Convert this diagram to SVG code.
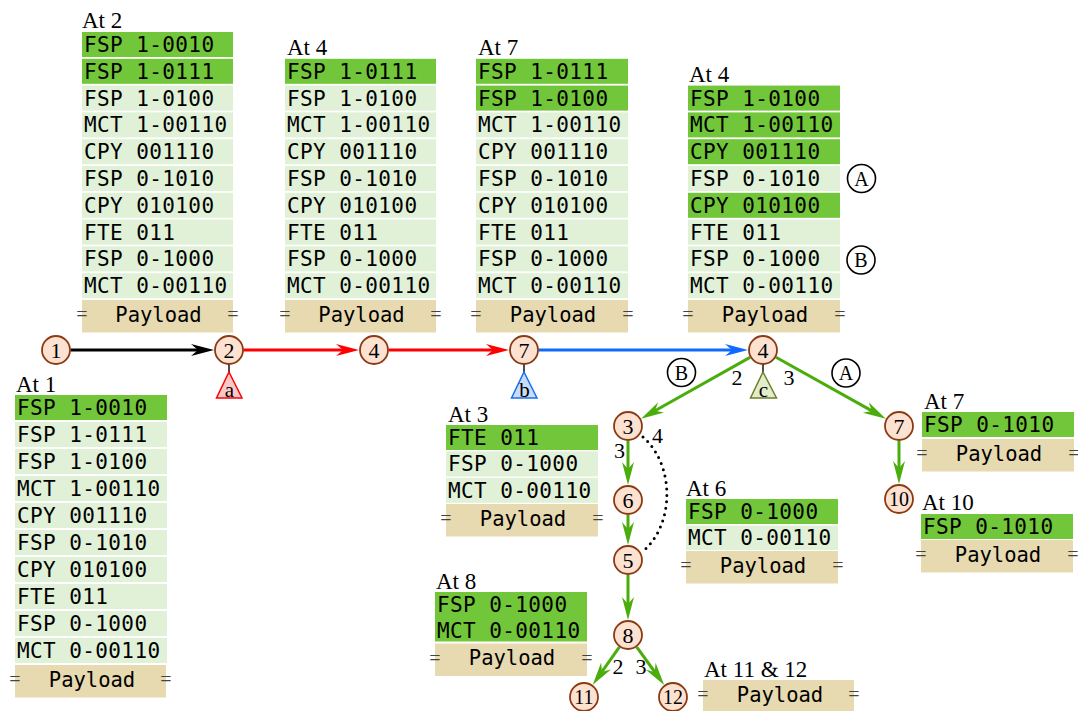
<svg xmlns="http://www.w3.org/2000/svg" width="1078" height="711" viewBox="0 0 1078 711">
<style>
.hd{font-family:"Liberation Serif",serif;font-size:23px;fill:#000}
.rt{font-family:"DejaVu Sans Mono",monospace;font-size:21px;letter-spacing:0.4px;fill:#000}
.pt{font-family:"DejaVu Sans Mono",monospace;font-size:20.5px;fill:#000;text-anchor:middle}
.eq{font-family:"Liberation Serif",serif;font-size:20px;fill:#444;text-anchor:middle}
.dk{fill:#72c63a}
.lt{fill:#e0f1d8}
.pl{fill:#e7dab0}
.nd circle{fill:#fde2d2;stroke:#8c3a12;stroke-width:1.8}
.nl{font-family:"Liberation Serif",serif;font-size:22px;fill:#000;text-anchor:middle}
.el{font-family:"Liberation Serif",serif;font-size:22px;fill:#000;text-anchor:middle}
.cl circle{fill:#fff;stroke:#000;stroke-width:1.6}
.cl text{font-family:"Liberation Serif",serif;font-size:20px;fill:#000;text-anchor:middle}
.tl{font-family:"Liberation Serif",serif;font-size:21px;fill:#000;text-anchor:middle}
.e{fill:none;stroke-width:3}
</style>
<defs>
<marker id="mk" markerUnits="userSpaceOnUse" viewBox="0 -7 24 14" markerWidth="24" markerHeight="14" refX="7" refY="0" orient="auto"><path d="M0,-6 L23,0 L0,6 L7,0 Z" fill="#000"/></marker>
<marker id="mr" markerUnits="userSpaceOnUse" viewBox="0 -7 24 14" markerWidth="24" markerHeight="14" refX="7" refY="0" orient="auto"><path d="M0,-6 L23,0 L0,6 L7,0 Z" fill="#ff0000"/></marker>
<marker id="mb" markerUnits="userSpaceOnUse" viewBox="0 -7 24 14" markerWidth="24" markerHeight="14" refX="7" refY="0" orient="auto"><path d="M0,-6 L23,0 L0,6 L7,0 Z" fill="#0f6bff"/></marker>
<marker id="mg" markerUnits="userSpaceOnUse" viewBox="0 -7 24 14" markerWidth="24" markerHeight="14" refX="7" refY="0" orient="auto"><path d="M0,-6 L23,0 L0,6 L7,0 Z" fill="#4aad0c"/></marker>
</defs>

<!-- Stack At 2 -->
<g id="stack-at2">
<text class="hd" x="82" y="28">At 2</text>
<rect class="dk" x="82" y="32" width="151" height="25"/><text class="rt" x="84" y="52">FSP 1-0010</text>
<rect class="dk" x="82" y="58.8" width="151" height="25"/><text class="rt" x="84" y="78.8">FSP 1-0111</text>
<rect class="lt" x="82" y="85.6" width="151" height="25"/><text class="rt" x="84" y="105.6">FSP 1-0100</text>
<rect class="lt" x="82" y="112.4" width="151" height="25"/><text class="rt" x="84" y="132.4">MCT 1-00110</text>
<rect class="lt" x="82" y="139.2" width="151" height="25"/><text class="rt" x="84" y="159.2">CPY 001110</text>
<rect class="lt" x="82" y="166" width="151" height="25"/><text class="rt" x="84" y="186">FSP 0-1010</text>
<rect class="lt" x="82" y="192.8" width="151" height="25"/><text class="rt" x="84" y="212.8">CPY 010100</text>
<rect class="lt" x="82" y="219.6" width="151" height="25"/><text class="rt" x="84" y="239.6">FTE 011</text>
<rect class="lt" x="82" y="246.4" width="151" height="25"/><text class="rt" x="84" y="266.4">FSP 0-1000</text>
<rect class="lt" x="82" y="273.2" width="151" height="25"/><text class="rt" x="84" y="293.2">MCT 0-00110</text>
<rect class="pl" x="82" y="300" width="151" height="32.5"/><text class="pt" x="158.5" y="321.5">Payload</text>
<text class="eq" x="82" y="321">=</text><text class="eq" x="233" y="321">=</text>
</g>

<!-- Stack At 4 (top) -->
<g id="stack-at4a">
<text class="hd" x="287" y="55">At 4</text>
<rect class="dk" x="285" y="58.8" width="151" height="25"/><text class="rt" x="287" y="78.8">FSP 1-0111</text>
<rect class="lt" x="285" y="85.6" width="151" height="25"/><text class="rt" x="287" y="105.6">FSP 1-0100</text>
<rect class="lt" x="285" y="112.4" width="151" height="25"/><text class="rt" x="287" y="132.4">MCT 1-00110</text>
<rect class="lt" x="285" y="139.2" width="151" height="25"/><text class="rt" x="287" y="159.2">CPY 001110</text>
<rect class="lt" x="285" y="166" width="151" height="25"/><text class="rt" x="287" y="186">FSP 0-1010</text>
<rect class="lt" x="285" y="192.8" width="151" height="25"/><text class="rt" x="287" y="212.8">CPY 010100</text>
<rect class="lt" x="285" y="219.6" width="151" height="25"/><text class="rt" x="287" y="239.6">FTE 011</text>
<rect class="lt" x="285" y="246.4" width="151" height="25"/><text class="rt" x="287" y="266.4">FSP 0-1000</text>
<rect class="lt" x="285" y="273.2" width="151" height="25"/><text class="rt" x="287" y="293.2">MCT 0-00110</text>
<rect class="pl" x="285" y="300" width="151" height="32.5"/><text class="pt" x="361.5" y="321.5">Payload</text>
<text class="eq" x="285" y="321">=</text><text class="eq" x="436" y="321">=</text>
</g>

<!-- Stack At 7 (top) -->
<g id="stack-at7a">
<text class="hd" x="478" y="55">At 7</text>
<rect class="dk" x="476" y="58.8" width="152" height="25"/><text class="rt" x="478" y="78.8">FSP 1-0111</text>
<rect class="dk" x="476" y="85.6" width="152" height="25"/><text class="rt" x="478" y="105.6">FSP 1-0100</text>
<rect class="lt" x="476" y="112.4" width="152" height="25"/><text class="rt" x="478" y="132.4">MCT 1-00110</text>
<rect class="lt" x="476" y="139.2" width="152" height="25"/><text class="rt" x="478" y="159.2">CPY 001110</text>
<rect class="lt" x="476" y="166" width="152" height="25"/><text class="rt" x="478" y="186">FSP 0-1010</text>
<rect class="lt" x="476" y="192.8" width="152" height="25"/><text class="rt" x="478" y="212.8">CPY 010100</text>
<rect class="lt" x="476" y="219.6" width="152" height="25"/><text class="rt" x="478" y="239.6">FTE 011</text>
<rect class="lt" x="476" y="246.4" width="152" height="25"/><text class="rt" x="478" y="266.4">FSP 0-1000</text>
<rect class="lt" x="476" y="273.2" width="152" height="25"/><text class="rt" x="478" y="293.2">MCT 0-00110</text>
<rect class="pl" x="476" y="300" width="152" height="32.5"/><text class="pt" x="553" y="321.5">Payload</text>
<text class="eq" x="476" y="321">=</text><text class="eq" x="628" y="321">=</text>
</g>

<!-- Stack At 4 (right) -->
<g id="stack-at4b">
<text class="hd" x="689" y="82">At 4</text>
<rect class="dk" x="688" y="85.6" width="152" height="25"/><text class="rt" x="690" y="105.6">FSP 1-0100</text>
<rect class="dk" x="688" y="112.4" width="152" height="25"/><text class="rt" x="690" y="132.4">MCT 1-00110</text>
<rect class="dk" x="688" y="139.2" width="152" height="25"/><text class="rt" x="690" y="159.2">CPY 001110</text>
<rect class="lt" x="688" y="166" width="152" height="25"/><text class="rt" x="690" y="186">FSP 0-1010</text>
<rect class="dk" x="688" y="192.8" width="152" height="25"/><text class="rt" x="690" y="212.8">CPY 010100</text>
<rect class="lt" x="688" y="219.6" width="152" height="25"/><text class="rt" x="690" y="239.6">FTE 011</text>
<rect class="lt" x="688" y="246.4" width="152" height="25"/><text class="rt" x="690" y="266.4">FSP 0-1000</text>
<rect class="lt" x="688" y="273.2" width="152" height="25"/><text class="rt" x="690" y="293.2">MCT 0-00110</text>
<rect class="pl" x="688" y="300" width="152" height="32.5"/><text class="pt" x="765" y="321.5">Payload</text>
<text class="eq" x="688" y="321">=</text><text class="eq" x="840" y="321">=</text>
<g class="cl"><circle cx="861.5" cy="178.5" r="14"/><text x="861.5" y="185.5">A</text></g>
<g class="cl"><circle cx="861" cy="260" r="14"/><text x="861" y="267">B</text></g>
</g>

<!-- Stack At 1 -->
<g id="stack-at1">
<text class="hd" x="16" y="392">At 1</text>
<rect class="dk" x="15" y="395" width="152" height="25"/><text class="rt" x="17" y="415">FSP 1-0010</text>
<rect class="lt" x="15" y="422" width="152" height="25"/><text class="rt" x="17" y="442">FSP 1-0111</text>
<rect class="lt" x="15" y="449" width="152" height="25"/><text class="rt" x="17" y="469">FSP 1-0100</text>
<rect class="lt" x="15" y="476" width="152" height="25"/><text class="rt" x="17" y="496">MCT 1-00110</text>
<rect class="lt" x="15" y="503" width="152" height="25"/><text class="rt" x="17" y="523">CPY 001110</text>
<rect class="lt" x="15" y="530" width="152" height="25"/><text class="rt" x="17" y="550">FSP 0-1010</text>
<rect class="lt" x="15" y="557" width="152" height="25"/><text class="rt" x="17" y="577">CPY 010100</text>
<rect class="lt" x="15" y="584" width="152" height="25"/><text class="rt" x="17" y="604">FTE 011</text>
<rect class="lt" x="15" y="611" width="152" height="25"/><text class="rt" x="17" y="631">FSP 0-1000</text>
<rect class="lt" x="15" y="638" width="152" height="25"/><text class="rt" x="17" y="658">MCT 0-00110</text>
<rect class="pl" x="15" y="665" width="151" height="32.5"/><text class="pt" x="92" y="686.5">Payload</text>
<text class="eq" x="15" y="686">=</text><text class="eq" x="166" y="686">=</text>
</g>

<!-- Stack At 3 -->
<g id="stack-at3">
<text class="hd" x="448" y="422">At 3</text>
<rect class="dk" x="446" y="425" width="152" height="25"/><text class="rt" x="448" y="445">FTE 011</text>
<rect class="lt" x="446" y="451.4" width="152" height="25"/><text class="rt" x="448" y="471.4">FSP 0-1000</text>
<rect class="lt" x="446" y="477.8" width="152" height="25"/><text class="rt" x="448" y="497.8">MCT 0-00110</text>
<rect class="pl" x="446" y="504" width="152" height="32.5"/><text class="pt" x="523" y="525.5">Payload</text>
<text class="eq" x="446" y="525">=</text><text class="eq" x="598" y="525">=</text>
</g>

<!-- Stack At 6 -->
<g id="stack-at6">
<text class="hd" x="686" y="496">At 6</text>
<rect class="dk" x="686" y="499" width="152" height="25"/><text class="rt" x="688" y="519">FSP 0-1000</text>
<rect class="lt" x="686" y="525.5" width="152" height="24.5"/><text class="rt" x="688" y="545">MCT 0-00110</text>
<rect class="pl" x="686" y="551" width="152" height="32.5"/><text class="pt" x="763" y="572.5">Payload</text>
<text class="eq" x="686" y="572">=</text><text class="eq" x="838" y="572">=</text>
</g>

<!-- Stack At 8 -->
<g id="stack-at8">
<text class="hd" x="436" y="589">At 8</text>
<rect class="dk" x="435" y="592" width="152" height="49.5"/>
<text class="rt" x="437" y="612">FSP 0-1000</text>
<text class="rt" x="437" y="638">MCT 0-00110</text>
<rect class="pl" x="435" y="643.5" width="152" height="32.5"/><text class="pt" x="512" y="665">Payload</text>
<text class="eq" x="435" y="665">=</text><text class="eq" x="587" y="665">=</text>
</g>

<!-- Stack At 7 (right) -->
<g id="stack-at7b">
<text class="hd" x="924" y="409">At 7</text>
<rect class="dk" x="922" y="412" width="152" height="25"/><text class="rt" x="924" y="432">FSP 0-1010</text>
<rect class="pl" x="922" y="439" width="152" height="32.5"/><text class="pt" x="999" y="460.5">Payload</text>
<text class="eq" x="922" y="460">=</text><text class="eq" x="1074" y="460">=</text>
</g>

<!-- Stack At 10 -->
<g id="stack-at10">
<text class="hd" x="922" y="510">At 10</text>
<rect class="dk" x="921" y="514" width="152" height="25"/><text class="rt" x="923" y="534">FSP 0-1010</text>
<rect class="pl" x="921" y="540" width="152" height="32.5"/><text class="pt" x="998" y="561.5">Payload</text>
<text class="eq" x="921" y="561">=</text><text class="eq" x="1073" y="561">=</text>
</g>

<!-- Stack At 11 & 12 -->
<g id="stack-at11-12">
<text class="hd" x="704" y="677">At 11 &amp; 12</text>
<rect class="pl" x="703" y="680" width="151" height="32.5"/><text class="pt" x="780" y="701.5">Payload</text>
<text class="eq" x="703" y="701">=</text><text class="eq" x="854" y="701">=</text>
</g>

<!-- Connectors -->
<g id="connectors">
<line class="e" x1="70.5" y1="350" x2="198" y2="350" stroke="#000" marker-end="url(#mk)"/>
<line class="e" x1="243.5" y1="350" x2="343" y2="350" stroke="#ff0000" marker-end="url(#mr)"/>
<line class="e" x1="388.5" y1="350" x2="493" y2="350" stroke="#ff0000" marker-end="url(#mr)"/>
<line class="e" x1="538.5" y1="350" x2="732" y2="350" stroke="#0f6bff" marker-end="url(#mb)"/>
<line class="e" x1="750" y1="357.4" x2="655" y2="410.8" stroke="#4aad0c" marker-end="url(#mg)"/>
<line class="e" x1="776" y1="357.3" x2="871.9" y2="410.9" stroke="#4aad0c" marker-end="url(#mg)"/>
<line class="e" x1="628" y1="441" x2="628" y2="469" stroke="#4aad0c" marker-end="url(#mg)"/>
<line class="e" x1="628" y1="515" x2="628" y2="529" stroke="#4aad0c" marker-end="url(#mg)"/>
<line class="e" x1="628" y1="575" x2="628" y2="604" stroke="#4aad0c" marker-end="url(#mg)"/>
<line class="e" x1="619.3" y1="647.2" x2="602" y2="671.7" stroke="#4aad0c" marker-end="url(#mg)"/>
<line class="e" x1="636.8" y1="647.1" x2="654.8" y2="672" stroke="#4aad0c" marker-end="url(#mg)"/>
<line class="e" x1="899" y1="441" x2="899" y2="468" stroke="#4aad0c" marker-end="url(#mg)"/>
<path d="M643,437 C675,465 675,525 642,552" fill="none" stroke="#000" stroke-width="3" stroke-linecap="round" stroke-dasharray="0 6.5"/>
<text class="el" x="737" y="385">2</text>
<text class="el" x="789" y="385">3</text>
<text class="el" x="619.5" y="458">3</text>
<text class="el" x="657.5" y="443">4</text>
<text class="el" x="618" y="674">2</text>
<text class="el" x="641" y="674">3</text>
<g class="cl"><circle cx="681.5" cy="372.5" r="14"/><text x="681.5" y="379.5">B</text></g>
<g class="cl"><circle cx="846" cy="373" r="14"/><text x="846" y="380">A</text></g>
<line x1="229" y1="364" x2="229" y2="372" stroke="#000" stroke-width="1.4"/>
<line x1="524" y1="364" x2="524" y2="372" stroke="#000" stroke-width="1.4"/>
<line x1="763" y1="364" x2="763" y2="372" stroke="#000" stroke-width="1.4"/>
</g>

<!-- Triangles -->
<g id="tri-a"><path d="M229,372 L242,398 L216.5,398 Z" fill="#f9c9c9" stroke="#ff0000" stroke-width="1.5"/><text class="tl" x="229.5" y="396.5">a</text></g>
<g id="tri-b"><path d="M524,372 L537,398 L511.5,398 Z" fill="#c8dcf5" stroke="#1b6ef0" stroke-width="1.5"/><text class="tl" x="524.5" y="396.5">b</text></g>
<g id="tri-c"><path d="M763,372 L776.5,398 L750.5,398 Z" fill="#e2edcc" stroke="#6d7f2c" stroke-width="1.5"/><text class="tl" x="763.5" y="396.5">c</text></g>

<!-- Nodes -->
<g id="n1" class="nd"><circle cx="56" cy="350" r="14"/><text class="nl" x="56" y="357.5">1</text></g>
<g id="n2" class="nd"><circle cx="229" cy="350" r="14"/><text class="nl" x="229" y="357.5">2</text></g>
<g id="n4a" class="nd"><circle cx="374" cy="350" r="14"/><text class="nl" x="374" y="357.5">4</text></g>
<g id="n7a" class="nd"><circle cx="524" cy="350" r="14"/><text class="nl" x="524" y="357.5">7</text></g>
<g id="n4b" class="nd"><circle cx="763" cy="350" r="14"/><text class="nl" x="763" y="357.5">4</text></g>
<g id="n3" class="nd"><circle cx="628" cy="426" r="14"/><text class="nl" x="628" y="433.5">3</text></g>
<g id="n6" class="nd"><circle cx="628" cy="500" r="14"/><text class="nl" x="628" y="507.5">6</text></g>
<g id="n5" class="nd"><circle cx="628" cy="560" r="14"/><text class="nl" x="628" y="567.5">5</text></g>
<g id="n8" class="nd"><circle cx="628" cy="635" r="14"/><text class="nl" x="628" y="642.5">8</text></g>
<g id="n11" class="nd"><circle cx="584" cy="697" r="14"/><text class="nl" x="584" y="704" style="font-size:20px">11</text></g>
<g id="n12" class="nd"><circle cx="673" cy="697" r="14"/><text class="nl" x="673" y="704" style="font-size:20px">12</text></g>
<g id="n7b" class="nd"><circle cx="899" cy="426" r="14"/><text class="nl" x="899" y="433.5">7</text></g>
<g id="n10" class="nd"><circle cx="899" cy="499" r="14"/><text class="nl" x="899" y="506" style="font-size:20px">10</text></g>
</svg>
